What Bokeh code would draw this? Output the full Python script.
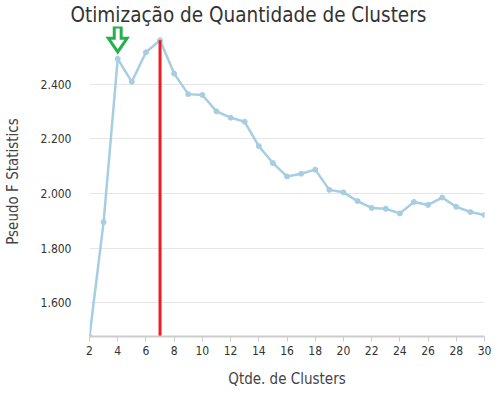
from bokeh.plotting import figure
from bokeh.embed import file_html
from bokeh.resources import INLINE
from bokeh.models import Range1d, FixedTicker, CustomJSTickFormatter
from bokeh.core.properties import value

clusters = list(range(2, 31))
pseudo_f = [1477, 1895, 2492, 2408, 2516, 2560, 2438, 2363, 2360, 2300, 2277, 2262,
            2173, 2111, 2062, 2072, 2087, 2013, 2004, 1972, 1947, 1944, 1927, 1969,
            1958, 1985, 1951, 1932, 1921]
x_ticks = list(range(2, 31, 2))
y_ticks = [1600, 1800, 2000, 2200, 2400]
best_k = 7
marked_k = 4
marked_val = 2492

FONT = "DejaVu Sans Condensed"

W, H = 494, 390
L, R, T, B = 84, 10, 25, 49
x0, x1 = 2, 30
y0 = min(pseudo_f)
ymax = max(pseudo_f)
# leave 14 px of headroom above the highest point for the arrow
head_px = 14
fh = H - T - B
y1 = ymax + head_px * (ymax - y0) / (fh - head_px)

p = figure(width=W, height=H, output_backend="svg", toolbar_location=None,
           x_range=Range1d(x0, x1), y_range=Range1d(y0, y1),
           min_border_left=L, min_border_right=R, min_border_top=T, min_border_bottom=B,
           title="Otimização de Quantidade de Clusters")
p.title.text_font = FONT
p.title.text_font_size = "20.5px"
p.title.text_font_style = "normal"
p.title.text_color = "#333333"
p.title.align = "left"
p.title.offset = -19
p.title.standoff = 0
p.outline_line_color = None

p.line(clusters, pseudo_f, line_color="#a6cee3", line_width=2.5)
p.scatter(clusters, pseudo_f, size=5, fill_color="#a6cee3", line_color="#a6cee3")

p.segment(x0=[best_k], y0=[y0], x1=[best_k], y1=[ymax], line_color="#ee1c24", line_width=3)

# hollow down-arrow above the marked point, shape given in pixels and
# converted to data units via the frame scale
fw = W - L - R
px_x = (x1 - x0) / fw
px_y = (y1 - y0) / fh
shape_px = [(0, 7), (-9.5, 21), (-3.5, 21), (-3.5, 32.5), (3.5, 32.5), (3.5, 21), (9.5, 21)]
ax = [marked_k + dx * px_x for dx, dy in shape_px]
ay = [marked_val + dy * px_y for dx, dy in shape_px]
p.patch(ax, ay, fill_color="white", line_color="#22b14c", line_width=3, line_join="miter")

p.xaxis.ticker = FixedTicker(ticks=x_ticks)
p.yaxis.ticker = FixedTicker(ticks=y_ticks)
p.yaxis.formatter = CustomJSTickFormatter(code="""
const t = Math.round(tick);
const th = Math.floor(t/1000);
const r = String(t % 1000).padStart(3, '0');
return th + '.' + r;
""")
p.xaxis.axis_label = "Qtde. de Clusters"
p.yaxis.axis_label = "Pseudo F Statistics"
for a in (p.xaxis[0], p.yaxis[0]):
    a.axis_label_text_font = FONT
    a.axis_label_text_font_size = "15px"
    a.axis_label_text_font_style = "normal"
    a.axis_label_text_color = "#444444"
    a.major_label_text_font = FONT
    a.major_label_text_font_size = "12px"
    a.major_label_text_color = "#333333"
    a.minor_tick_line_color = None

p.yaxis.major_label_standoff = 12
p.yaxis.axis_label_standoff = 16
p.xaxis.axis_label_standoff = 12
p.xaxis.major_label_standoff = 4
p.xaxis.axis_line_color = "#cccccc"
p.xaxis.axis_line_width = 2
p.xaxis.major_tick_line_color = "#cccccc"
p.xaxis.major_tick_out = 5
p.xaxis.major_tick_in = 0
p.yaxis.axis_line_color = None
p.yaxis.major_tick_line_color = None
p.xgrid.grid_line_color = None
p.ygrid.grid_line_color = "#e6e6e6"

open("out.html", "w").write(file_html(p, INLINE))
